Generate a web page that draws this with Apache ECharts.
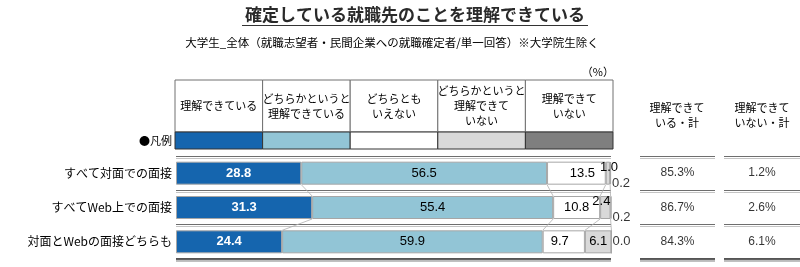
<!DOCTYPE html>
<html><head><meta charset="utf-8">
<script src="https://cdn.jsdelivr.net/npm/echarts@6/dist/echarts.min.js"></script>
<style>html,body{margin:0;padding:0;background:#fff;overflow:hidden}#c{width:800px;height:267px}</style>
</head><body><div id="c"></div>
<script>
const titleText = '確定している就職先のことを理解できている';
const subtitleText = '大学生_全体（就職志望者・民間企業への就職確定者/単一回答）※大学院生除く';
const categories = ['すべて対面での面接', 'すべてWeb上での面接', '対面とWebの面接どちらも'];
const seriesNames = ['理解できている', 'どちらかというと理解できている', 'どちらともいえない', 'どちらかというと理解できていない', '理解できていない'];
const legendHeaderLines = [['理解できている'], ['どちらかというと', '理解できている'], ['どちらとも', 'いえない'], ['どちらかというと', '理解できて', 'いない'], ['理解できて', 'いない']];
const understood = [28.8, 31.3, 24.4];
const somewhatUnderstood = [56.5, 55.4, 59.9];
const neither = [13.5, 10.8, 9.7];
const somewhatNot = [1.0, 2.4, 6.1];
const notUnderstood = [0.2, 0.2, 0.0];
const totalUnderstood = [85.3, 86.7, 84.3];
const totalNot = [1.2, 2.6, 6.1];
const totalHeaders = [['理解できて', 'いる・計'], ['理解できて', 'いない・計']];
const unitLabel = '（%）';
const legendLabel = '●凡例';

const colors = ['#1565ae', '#92c5d6', '#ffffff', '#d9d9d9', '#7f7f7f'];
const allSeries = [understood, somewhatUnderstood, neither, somewhatNot, notUnderstood];

const JP = '"Noto Sans CJK JP", sans-serif';
const NUM = '"Liberation Sans", Arial, sans-serif';
const BAR_W = 23;
const GRID_TOP = 156, GRID_H = 103;
const X0 = 176, XW = 435;

const chart = echarts.init(document.getElementById('c'), null, {renderer: 'canvas', width: 800, height: 267});

const lineStyle = {color: '#6e6e6e', width: 1, shadowColor: '#c4c4c4', shadowOffsetY: 2, shadowBlur: 0};

function labelFor(si, i, v) {
  const base = {show: true, fontFamily: NUM, fontSize: 13, color: si === 0 ? '#fff' : '#000',
    fontWeight: si === 0 ? 'bold' : 'normal', formatter: () => v.toFixed(1)};
  if (si === 4) return {show: false};
  if (si === 3 && v < 3) return Object.assign(base, {position: 'inside', offset: [i === 0 ? 1 : -4, -6]});
  if (si === 2) return Object.assign(base, {position: 'inside', offset: [i === 0 ? 6 : (i === 2 ? -4 : 0), 0]});
  return Object.assign(base, {position: 'inside'});
}

const barSeries = allSeries.map((arr, si) => ({
  type: 'bar', name: seriesNames[si], stack: 'total', barWidth: BAR_W,
  xAxisIndex: 0, yAxisIndex: 0, clip: false,
  itemStyle: {color: colors[si], borderColor: '#a6a6a6', borderWidth: 1},
  data: arr.map((v, i) => ({value: v, label: labelFor(si, i, v)})),
  emphasis: {disabled: true}
}));

const cum = categories.map((_, i) => {
  let s = 0; const out = [];
  for (let k = 0; k < 5; k++) { s += allSeries[k][i]; out.push(s); }
  return out;
});
const connectorData = [];
for (let i = 0; i < categories.length - 1; i++)
  for (let k = 0; k < 4; k++) connectorData.push([cum[i][k], i, cum[i + 1][k], i + 1]);

const connectorSeries = {
  type: 'custom', xAxisIndex: 0, yAxisIndex: 0, silent: true, z: 1, clip: false,
  encode: {x: [0, 2], y: [1, 3]},
  data: connectorData,
  renderItem: (params, api) => {
    const p1 = api.coord([api.value(0), api.value(1)]);
    const p2 = api.coord([api.value(2), api.value(3)]);
    return {type: 'line', shape: {x1: p1[0], y1: p1[1] + BAR_W / 2, x2: p2[0], y2: p2[1] - BAR_W / 2},
      style: {stroke: '#b0b0b0', lineWidth: 0.8}};
  }
};

const lastLabelSeries = {
  type: 'scatter', xAxisIndex: 0, yAxisIndex: 0, symbolSize: 0, silent: true, z: 5, clip: false,
  data: notUnderstood.map((v, i) => [cum[i][4], i, v]),
  label: {show: true, position: 'right', distance: 1, fontFamily: NUM, fontSize: 13, color: '#000',
    formatter: p => p.value[2].toFixed(1)},
  labelLayout: p => ({dy: notUnderstood[p.dataIndex] > 0 ? 10 : 0})
};

function totalSeries(arr, gi) {
  return {
    type: 'scatter', xAxisIndex: gi, yAxisIndex: gi, symbolSize: 0, silent: true,
    data: arr.map((v, i) => [0.5, i, v]),
    label: {show: true, position: 'inside', fontFamily: NUM, fontSize: 12, color: '#000',
      formatter: p => p.value[2].toFixed(1) + '%'}
  };
}

const graphic = [];
graphic.push({type: 'text', style: {text: titleText, x: 415, y: 15, align: 'center', verticalAlign: 'middle',
  font: 'bold 17px ' + JP, fill: '#2a2a2a'}});
graphic.push({type: 'line', shape: {x1: 242, y1: 25.5, x2: 588, y2: 25.5}, style: {stroke: '#333', lineWidth: 1.2}});
graphic.push({type: 'text', style: {text: subtitleText, x: 392, y: 43, align: 'center', verticalAlign: 'middle',
  font: '11.5px ' + JP, fill: '#000'}});
graphic.push({type: 'text', style: {text: unitLabel, x: 614, y: 72, align: 'right', verticalAlign: 'middle',
  font: '11px ' + JP, fill: '#000'}});

const TL = 175, TR = 613, TT = 80, TH = 132, TB = 149;
const colW = (TR - TL) / 5;
for (let k = 0; k < 5; k++) {
  const x = TL + k * colW;
  graphic.push({type: 'rect', shape: {x: x, y: TT, width: colW, height: TH - TT}, style: {fill: '#fff', stroke: '#707070', lineWidth: 1}});
  graphic.push({type: 'rect', shape: {x: x, y: TH, width: colW, height: TB - TH}, style: {fill: colors[k], stroke: '#333', lineWidth: 1}});
  graphic.push({type: 'text', style: {text: legendHeaderLines[k].join('\n'), x: x + colW / 2, y: (TT + TH) / 2,
    align: 'center', verticalAlign: 'middle', lineHeight: 15, font: '11px ' + JP, fill: '#000'}});
}
graphic.push({type: 'text', style: {text: legendLabel, x: 172, y: 141, align: 'right', verticalAlign: 'middle',
  font: '11px ' + JP, fill: '#000'}});
const hdrX = [677, 762];
totalHeaders.forEach((lines, j) => {
  graphic.push({type: 'text', style: {text: lines.join('\n'), x: hdrX[j], y: 115, align: 'center', verticalAlign: 'middle',
    lineHeight: 15, font: '11px ' + JP, fill: '#000'}});
});
// bottom rules under the last row (decoration) – thicker so they survive downscaling
[[X0, X0 + XW], [640, 715], [724, 800]].forEach(([a, b]) => {
  graphic.push({type: 'rect', z: 50, shape: {x: a, y: 258, width: b - a, height: 1.5}, style: {fill: '#555'}});
  graphic.push({type: 'rect', z: 50, shape: {x: a, y: 260, width: b - a, height: 1.5}, style: {fill: '#bbb'}});
});

const catAxis = (gi, showLabel) => ({
  type: 'category', gridIndex: gi, data: categories, inverse: true,
  axisLine: {show: false}, axisTick: {show: false},
  axisLabel: {show: showLabel, margin: 4, fontFamily: JP, fontSize: 12, color: '#000'},
  splitLine: {show: true, lineStyle: lineStyle}
});
const valAxis = (gi, max) => ({type: 'value', gridIndex: gi, min: 0, max: max, show: false});

chart.setOption({
  animation: false,
  backgroundColor: '#fff',
  grid: [
    {left: X0, width: XW, top: GRID_TOP, height: GRID_H},
    {left: 640, width: 75, top: GRID_TOP, height: GRID_H},
    {left: 724, width: 76, top: GRID_TOP, height: GRID_H}
  ],
  xAxis: [valAxis(0, 100), valAxis(1, 1), valAxis(2, 1)],
  yAxis: [catAxis(0, true), catAxis(1, false), catAxis(2, false)],
  series: [...barSeries, connectorSeries, lastLabelSeries, totalSeries(totalUnderstood, 1), totalSeries(totalNot, 2)],
  graphic: graphic
});
</script></body></html>
